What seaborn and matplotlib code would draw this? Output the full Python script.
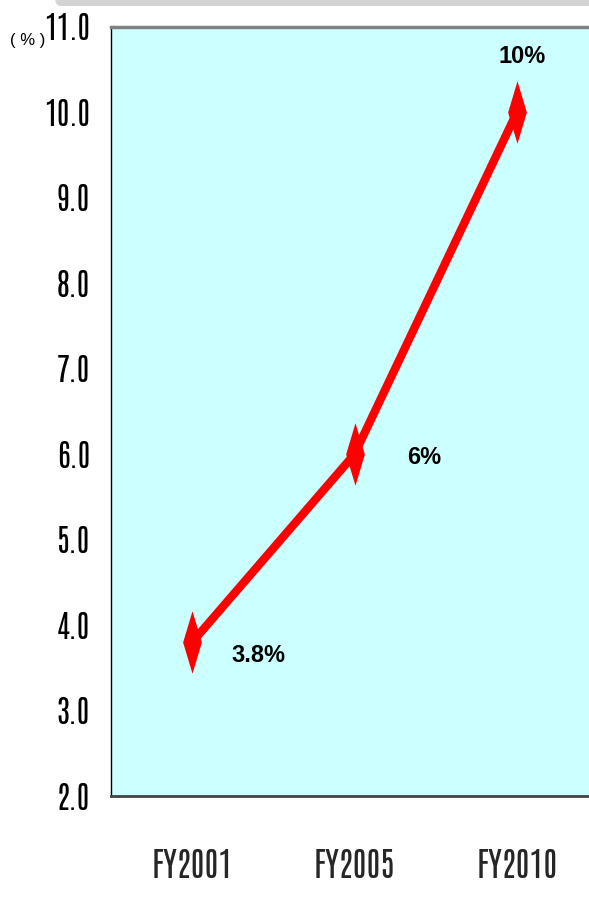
import matplotlib
matplotlib.use('Agg')
import matplotlib.pyplot as plt
import seaborn as sns
import pandas as pd
from matplotlib.patches import FancyBboxPatch
from matplotlib.ticker import FixedLocator

# Dados
years = ['FY2001', 'FY2005', 'FY2010']
values = [3.8, 6.0, 10.0]
point_labels = ['3.8%', '6%', '10%']
y_ticks = [2, 3, 4, 5, 6, 7, 8, 9, 10, 11]

sns.set_style('white')
narrow = ['Antonio', 'Archivo Narrow', 'DejaVu Sans']
bold_font = ['Liberation Sans', 'DejaVu Sans']

df = pd.DataFrame({'year': years, 'value': values})

fig = plt.figure(figsize=(5.89, 9.01), dpi=100)
ax = fig.add_axes([111 / 589, 105 / 901, 487 / 589, 769 / 901])
ax.set_facecolor('#CCFFFF')

# faixa cinza decorativa no topo
fig.patches.append(FancyBboxPatch((55 / 589, 1 - 6 / 901), 1.0, 0.05,
                                  boxstyle='round,pad=0,rounding_size=0.01',
                                  transform=fig.transFigure, facecolor='#D3D3D3',
                                  edgecolor='none', zorder=0))

# marcador losango alongado
diamond = [(0, 1), (0.3, 0), (0, -1), (-0.3, 0), (0, 1)]
sns.lineplot(data=df, x='year', y='value', ax=ax, color='#FF0000', linewidth=6,
             marker=diamond, markersize=45, markeredgewidth=0,
             markerfacecolor='#FF0000', sort=False, zorder=3)

ax.set_xlim(-0.5, 2.5)
ax.set_ylim(2, 11)

# rótulos de valores
offsets = [(0.41, -0.15), (0.43, -0.04), (0.03, 0.65)]
for i, (v, lab) in enumerate(zip(values, point_labels)):
    dx, dy = offsets[i]
    ax.text(i + dx, v + dy, lab, ha='center', va='center', fontsize=17,
            fontweight='bold', family=bold_font, color='black', zorder=4)

# eixo y
ax.set_yticks(y_ticks)
ax.set_yticklabels([f'{t:.1f}' for t in y_ticks], family=narrow, fontsize=22)
ax.tick_params(axis='y', direction='in', length=4, width=1, pad=15, colors='black')

# eixo x: rótulos nas categorias, marcas entre elas
ax.set_xticks(range(len(years)))
ax.set_xticklabels(years, family=narrow, fontsize=24)
ax.tick_params(axis='x', which='major', length=0, pad=38)
ax.xaxis.set_minor_locator(FixedLocator([0.5, 1.5]))
ax.tick_params(axis='x', which='minor', direction='in', length=16, width=1,
               color='#333333')

ax.set_xlabel('')
ax.set_ylabel('')

ax.spines['left'].set_color('black')
ax.spines['left'].set_linewidth(1.0)
ax.spines['bottom'].set_color('#444444')
ax.spines['bottom'].set_linewidth(2.0)
ax.spines['top'].set_color('#808080')
ax.spines['top'].set_linewidth(2.5)
ax.spines['right'].set_visible(False)

fig.text(28 / 589, 1 - 40 / 901, '( % )', ha='center', va='center', fontsize=12,
         family=bold_font, color='black')

fig.savefig('out.png', dpi=100)
